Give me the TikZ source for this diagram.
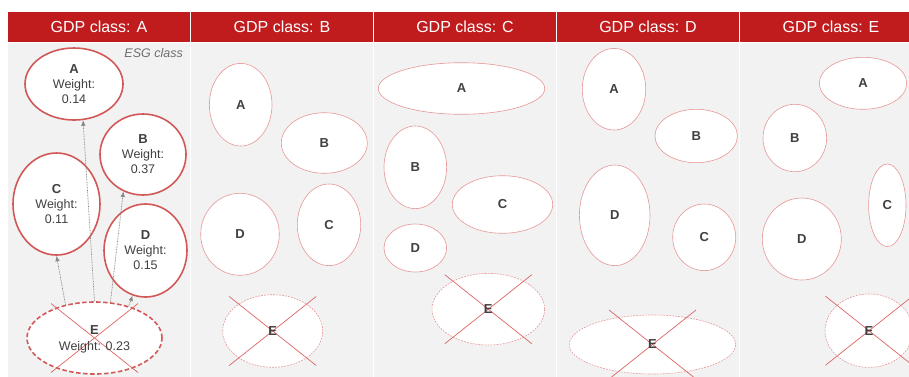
\documentclass[tikz,border=0pt]{standalone}
\usepackage{fontspec}
\setmainfont{Liberation Sans}
\usetikzlibrary{shapes.geometric,arrows.meta}
\definecolor{hdrred}{RGB}{192,28,30}
\definecolor{panelgray}{RGB}{242,242,242}
\definecolor{ellred}{RGB}{210,88,88}
\definecolor{ellpink}{RGB}{232,150,150}
\definecolor{crossred}{RGB}{220,100,100}
\definecolor{txtgray}{RGB}{64,64,64}
\definecolor{arrgray}{RGB}{135,135,135}
\definecolor{esggray}{RGB}{110,110,110}
\tikzset{
  hdr/.style={fill=hdrred, draw=white, line width=1pt, text=white, font=\fontsize{16}{18}\selectfont, minimum width=183pt, minimum height=30.5pt, inner sep=0pt, anchor=north west},
  panel/.style={fill=panelgray, draw=white, line width=1pt},
  bigell/.style={ellipse, draw=ellred, line width=1.6pt, fill=white, align=center, inner sep=0pt, text=txtgray, font=\fontsize{12.5}{15}\selectfont},
  smell/.style={ellipse, draw=ellpink, line width=0.6pt, fill=white, inner sep=0pt, text=txtgray, font=\fontsize{13}{15}\selectfont\bfseries},
  bigdash/.style={dash pattern=on 4.5pt off 2.5pt},
  smdash/.style={dash pattern=on 1.8pt off 1.2pt},
  crossline/.style={draw=crossred, line width=0.7pt},
  conn/.style={draw=arrgray, line width=0.7pt, dash pattern=on 0.8pt off 0.8pt, -{Latex[length=5.5pt,width=4.5pt,fill=arrgray]}},
  esg/.style={text=esggray, font=\fontsize{12.5}{14}\selectfont\itshape, anchor=east, inner sep=0pt},
  elabel/.style={text=txtgray, font=\fontsize{13}{15}\selectfont\bfseries, inner sep=0pt},
}
\newcommand{\xcross}[1]{%
  \draw[crossline] ([shift={(-43.5,-34.5)}]#1.center) -- ([shift={(43.5,34.5)}]#1.center);
  \draw[crossline] ([shift={(-43.5,34.5)}]#1.center) -- ([shift={(43.5,-34.5)}]#1.center);}
\begin{document}
\begin{tikzpicture}[x=1pt,y=-1pt]
\useasboundingbox (0,0) rectangle (909,376);
\clip (0,0) rectangle (909,376);
% panels
\foreach \i/\t in {0/A,1/B,2/C,3/D,4/E}{
  \path[panel] ({7+183*\i},41.5) rectangle ({7+183*(\i+1)},380);
  \node[hdr] (h\t) at ({7+183*\i},11) {GDP class: \t};
}
\node[esg] (esg) at (183,53) {ESG class};
% panel 1
\node[bigell, minimum width=98pt, minimum height=72pt] (p1A) at (74,84) {{\fontsize{13}{15}\bfseries A}\\Weight:\\0.14};
\node[bigell, minimum width=86pt, minimum height=81pt] (p1B) at (143,154.5) {{\fontsize{13}{15}\bfseries B}\\Weight:\\0.37};
\node[bigell, minimum width=87pt, minimum height=102pt] (p1C) at (56.5,204) {{\fontsize{13}{15}\bfseries C}\\Weight:\\0.11};
\node[bigell, minimum width=83pt, minimum height=93pt] (p1D) at (145.5,250.5) {{\fontsize{13}{15}\bfseries D}\\Weight:\\0.15};
\node[bigell, bigdash, minimum width=135pt, minimum height=72pt] (p1E) at (94.5,338) {};
\xcross{p1E}
\node[elabel] (p1El) at (94.5,330) {E};
\node[text=txtgray, font=\fontsize{12.5}{15}\selectfont, inner sep=0pt] (p1Ew) at (94.5,347) {Weight: 0.23};
\draw[conn] (p1E.90) -- (p1A.-76);
\draw[conn] (p1E.131) -- (p1C.-90);
\draw[conn] (p1E.66) -- (p1B.-118);
\draw[conn] (p1E.43) -- (p1D.-106);
% panel 2
\node[smell, minimum width=62.6pt, minimum height=82.6pt] (p2A) at (240.7,104.7) {A};
\node[smell, minimum width=86pt, minimum height=60.6pt] (p2B) at (324.3,143) {B};
\node[smell, minimum width=63.4pt, minimum height=81.6pt] (p2C) at (329,224.8) {C};
\node[smell, minimum width=78.6pt, minimum height=82pt] (p2D) at (240,234.3) {D};
\node[smell, smdash, minimum width=100pt, minimum height=72.6pt] (p2E) at (272.7,331) {};
\xcross{p2E}
\node[elabel] (p2El) at (p2E) {E};
% panel 3
\node[smell, minimum width=166.4pt, minimum height=51.6pt] (p3A) at (461.5,88.5) {A};
\node[smell, minimum width=62.6pt, minimum height=82.6pt] (p3B) at (415.3,167.3) {B};
\node[smell, minimum width=100.4pt, minimum height=57.6pt] (p3C) at (502.5,204.5) {C};
\node[smell, minimum width=62.6pt, minimum height=48pt] (p3D) at (415.3,248) {D};
\node[smell, smdash, minimum width=112.6pt, minimum height=71.6pt] (p3E) at (488.3,309.2) {};
\xcross{p3E}
\node[elabel] (p3El) at (p3E) {E};
% panel 4
\node[smell, minimum width=63.4pt, minimum height=81.6pt] (p4A) at (614,89.2) {A};
\node[smell, minimum width=82.4pt, minimum height=53.4pt] (p4B) at (696.2,136) {B};
\node[smell, minimum width=63pt, minimum height=66.6pt] (p4C) at (704.2,237.3) {C};
\node[smell, minimum width=70.6pt, minimum height=100.6pt] (p4D) at (614.7,215.3) {D};
\node[smell, smdash, minimum width=166.4pt, minimum height=59pt] (p4E) at (652.5,344.5) {};
\xcross{p4E}
\node[elabel] (p4El) at (p4E) {E};
% panel 5
\node[smell, minimum width=87.4pt, minimum height=52pt] (p5A) at (863,83.3) {A};
\node[smell, minimum width=63.6pt, minimum height=67.4pt] (p5B) at (794.8,138) {B};
\node[smell, minimum width=37.4pt, minimum height=82.6pt] (p5C) at (887.3,205.3) {C};
\node[smell, minimum width=79pt, minimum height=82pt] (p5D) at (801.8,239) {D};
\node[smell, smdash, minimum width=88pt, minimum height=73.4pt] (p5E) at (869,330.7) {};
\xcross{p5E}
\node[elabel] (p5El) at (p5E) {E};
\end{tikzpicture}
\end{document}
